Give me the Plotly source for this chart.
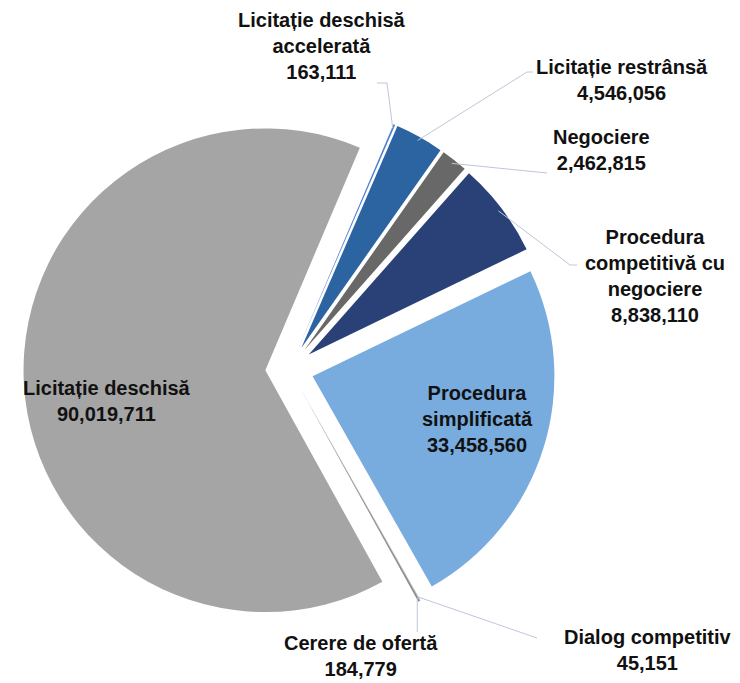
import plotly.graph_objects as go
import numpy as np

# date
proceduri = ["Licitație deschisă accelerată", "Licitație restrânsă", "Negociere",
             "Procedura competitivă cu negociere", "Procedura simplificată",
             "Dialog competitiv", "Cerere de ofertă", "Licitație deschisă"]
valori = [163111, 4546056, 2462815, 8838110, 33458560, 45151, 184779, 90019711]
etichete = ["Licitație deschisă<br>accelerată", "Licitație restrânsă", "Negociere",
            "Procedura<br>competitivă cu<br>negociere", "Procedura<br>simplificată",
            "Dialog competitiv", "Cerere de ofertă", "Licitație deschisă"]
culori = ["#4f7fcf", "#2b64a0", "#686868", "#2a4178", "#78acdf",
          "#9fb0c4", "#8f8f8f", "#a5a5a5"]

W, H = 740, 683
OFF = 8  # marginea paginii html muta figura cu 8px
CX, CY = 289.5, 369
BOX = 532
PULL = 0.1
ROT = 23
R = BOX / (2 + 2 * PULL)

# pozitia etichetelor (px pe ecran) si punctele de cot ale liniilor
pozitii = [(322, 46), (622, 80), (601, 150), (655, 276), (478, 419),
           (648, 650), (361, 656), (107, 401)]
coturi = [[(387, 83), (377, 83)], [(527, 72), (533, 72)], [(547, 173)],
          [(570, 265), (577, 265)], None, [(537, 638)], "vertical", None]


def px(x):
    return (x - OFF) / W


def py(y):
    return 1 - (y - OFF) / H


def margine(i, inset=4):
    tot = sum(valori)
    start = ROT + 360 * sum(valori[:i]) / tot
    mid = np.radians(start + 180 * valori[i] / tot)
    d = R * (1 + PULL) - inset
    return CX + d * np.sin(mid), CY - d * np.cos(mid)


fig = go.Figure(go.Pie(
    labels=proceduri,
    values=valori,
    sort=False,
    direction="clockwise",
    rotation=ROT,
    pull=[PULL] * len(valori),
    marker=dict(colors=culori, line=dict(width=0)),
    textinfo="none",
    hoverinfo="label+value",
    domain=dict(x=[px(CX - BOX / 2), px(CX + BOX / 2)],
                y=[py(CY + BOX / 2), py(CY - BOX / 2)]),
))

for i, (et, v) in enumerate(zip(etichete, valori)):
    x, y = pozitii[i]
    fig.add_annotation(x=px(x), y=py(y), xref="paper", yref="paper",
                       text=f"<b>{et}<br>{v:,}</b>", showarrow=False,
                       xanchor="center", yanchor="middle", align="center",
                       font=dict(family="Liberation Sans, Arial", size=20, color="#111111"))

    cot = coturi[i]
    if cot is None:
        continue
    x0, y0 = margine(i)
    if cot == "vertical":
        puncte = [(x0, y0), (x0, 632)]
    else:
        puncte = [(x0, y0)] + cot
    cale = "M " + " L ".join(f"{px(a)} {py(b)}" for a, b in puncte)
    fig.add_shape(type="path", path=cale, xref="paper", yref="paper",
                  line=dict(color="#bcc7d8", width=1))

fig.update_layout(width=W, height=H, margin=dict(l=0, r=0, t=0, b=0),
                  showlegend=False, paper_bgcolor="white", plot_bgcolor="white")

fig.write_html("out.html")
